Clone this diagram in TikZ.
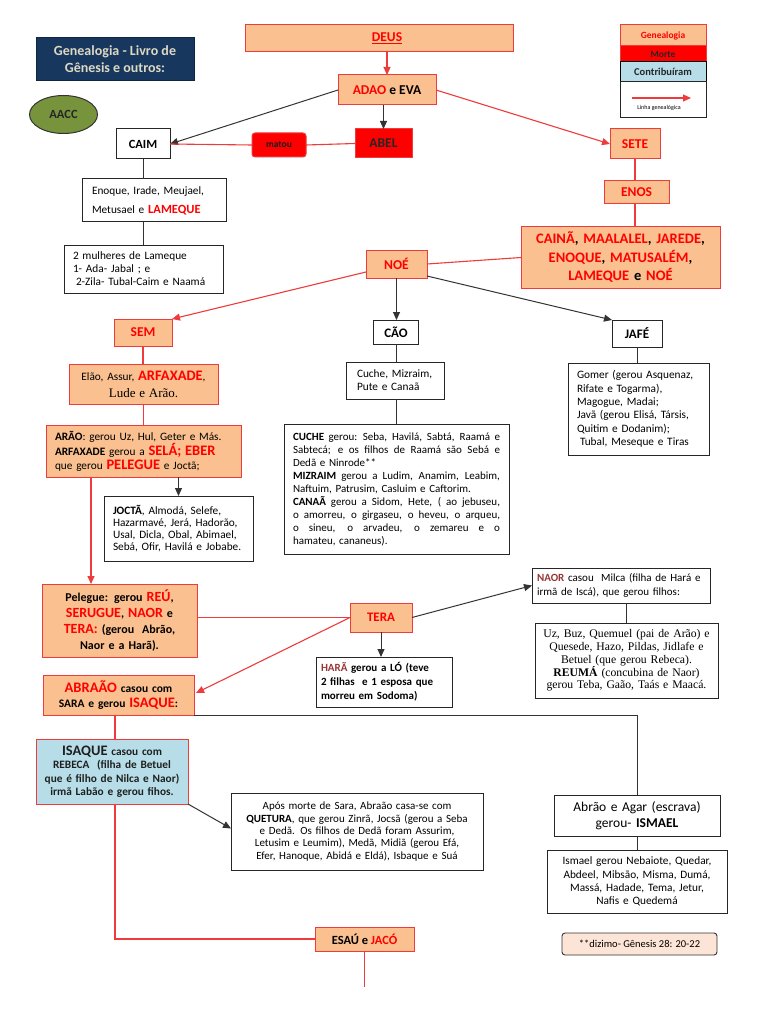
\documentclass[tikz,border=0pt]{standalone}
\usepackage{fontspec}
\setmainfont{Carlito}
\newfontfamily\tms{Liberation Serif}
\usetikzlibrary{arrows.meta,shapes.geometric,calc}
\definecolor{peach}{HTML}{FAC090}
\definecolor{rtxt}{HTML}{FF0000}
\definecolor{rbord}{HTML}{EE3B3B}
\definecolor{lblue}{HTML}{B7DEE8}
\definecolor{navy}{HTML}{17375E}
\definecolor{olive}{HTML}{77933C}
\definecolor{dred}{HTML}{953735}
\definecolor{lpeach}{HTML}{FCE4D6}
\definecolor{ttl}{HTML}{DDD9C3}
\newcommand{\fsz}[2]{\fontsize{#1}{#2}\selectfont}
\newcommand{\rbf}[1]{\textcolor{rtxt}{\textbf{#1}}}
\newcommand{\rcol}[1]{\textcolor{rtxt}{#1}}
\newcommand{\jline}[1]{\leavevmode\hbox to 207pt{\spaceskip=0.22em plus 1fil\relax #1}}
\begin{document}
\begin{tikzpicture}[x=1pt,y=-1pt,
 every node/.style={inner sep=0pt, outer sep=0pt},
 sz/.style 2 args={minimum width=#1pt, minimum height=#2pt},
 pbox/.style={draw=rbord, fill=peach, line width=1pt, rectangle},
 wbox/.style={draw=black!85, fill=white, line width=1pt, rectangle},
 bbox/.style={draw=rbord, fill=lblue, line width=1pt, rectangle},
 rline/.style={draw=rbord, line width=1.1pt},
 kline/.style={draw=black!80, line width=1pt},
 rarr/.style={rline, -{Triangle[length=8pt,width=7pt]}},
 karr/.style={kline, -{Triangle[length=8pt,width=7pt]}},
]
\fill[white] (0,0) rectangle (768,1024);
\useasboundingbox (0,0) rectangle (768,1024);

% title and logo
\node[fill=navy, draw=navy!70!black, line width=1pt, sz={158}{43}, text=ttl, font=\fsz{14}{17}\bfseries, align=center] (title) at (115,59.5) {Genealogia - Livro de\\Gênesis e outros:};
\node[ellipse, draw=black!80, fill=olive, line width=1pt, minimum width=68pt, minimum height=38pt, font=\fsz{12.5}{15}\bfseries, text=black!85] (aacc) at (63.5,114.5) {AACC};

% legend
\node[pbox, sz={86}{21}, font=\fsz{9.5}{11}\bfseries, text=rtxt] (lg1) at (663,35.5) {Genealogia};
\node[draw=rbord, fill=red, line width=1pt, sz={86}{16}, font=\fsz{9.5}{11}\bfseries, text=black!85] (lg2) at (663,54) {Morte};
\node[draw=black, fill=lblue, line width=1pt, sz={86}{20}, font=\fsz{10.5}{12}\bfseries, text=black!85] (lg3) at (663,72) {Contribuíram};
\node[wbox, sz={86}{36}] (lg4) at (663,100) {};
\coordinate (la1) at (632,98);
\coordinate (la2) at (691,98);
\draw[rarr] (la1) -- (la2);
\node[font=\fsz{6}{7}] (lgt) at (659,108) {Linha genealógica};

% top
\node[pbox, sz={268}{27}] (deus) at (379,38.5) {};
\node[font=\fsz{13.5}{16}\bfseries, text=rtxt] (deust) at (387,38.5) {\underline{DEUS}};
\node[pbox, sz={98}{30}, font=\fsz{13.5}{16}\bfseries] (adao) at (387,90) {\rcol{ADAO} e EVA};
\node[draw=rbord, fill=red, line width=1pt, sz={57}{29}, font=\fsz{13.5}{16}\bfseries, text=black!85] (abel) at (383.5,143.5) {ABEL};
\node[wbox, sz={54}{30}, font=\fsz{12.5}{15}\bfseries] (caim) at (143,144) {CAIM};
\node[draw=rbord, fill=red, rounded corners=3pt, line width=1pt, sz={54}{24}, font=\fsz{9.5}{11}\bfseries, text=black!90] (matou) at (279,145) {matou};
\node[pbox, sz={50}{30}, font=\fsz{13.5}{16}\bfseries, text=rtxt] (sete) at (635,144) {SETE};

\draw[rarr] (deus.south -| adao.north) -- (adao.north);
\draw[karr] (abel.north |- adao.south) -- (abel.north);
\draw[karr] (adao.west) -- (caim.east);
\draw[rarr] (adao.east) -- (sete.west);
\draw[rline] (caim.east) -- (matou.west);
\draw[rline] (matou.east) -- (abel.west);

% Caim line
\node[wbox, sz={144}{43}, font=\fsz{11.3}{19}, align=left, text width=124pt] (enoque) at (154,200.5) {Enoque, Irade, Meujael,\\ Metusael e {\fsz{12.5}{19}\rbf{LAMEQUE}}};
\node[wbox, sz={159}{48}, font=\fsz{11.3}{13}, align=left, text width=141pt] (mulh) at (143.5,269) {2 mulheres de Lameque\\ 1- Ada- Jabal ; e\\ \hspace*{3pt}2-Zila- Tubal-Caim e Naamá};
\draw[kline] (caim.south) -- (caim.south |- enoque.north);
\draw[kline] (caim.south |- enoque.south) -- (caim.south |- mulh.north);

% Sete line
\node[pbox, sz={65}{23}, font=\fsz{13.5}{16}\bfseries, text=rtxt] (enos) at (636.5,192.5) {ENOS};
\node[pbox, sz={199}{61}, font=\fsz{14.5}{18.5}\bfseries, align=center, text width=195pt] (big) at (620.5,257.5) {\rcol{CAINÃ}, \rcol{MAALALEL}, \rcol{JAREDE},\\ \rcol{ENOQUE}, \rcol{MATUSALÉM},\\ \rcol{LAMEQUE} e \rcol{NOÉ}};
\draw[rline] (sete.south) -- (sete.south |- enos.north);
\draw[rline] (sete.south |- enos.south) -- (sete.south |- big.north);

% Noe
\node[pbox, sz={61}{28}, font=\fsz{13.5}{16}\bfseries, text=rtxt] (noe) at (396.5,264) {NOÉ};
\draw[rline] (big.west) -- (noe.east);
\node[pbox, sz={58}{27}, font=\fsz{13.5}{16}\bfseries, text=rtxt] (sem) at (143,332.5) {SEM};
\node[wbox, sz={45}{24}, font=\fsz{13}{16}\bfseries] (cao) at (396,332) {CÃO};
\node[wbox, sz={50}{27}, font=\fsz{13}{16}\bfseries] (jafe) at (637,333.5) {JAFÉ};
\draw[rarr] ($(noe.south west)+(0,-6)$) -- (sem.north east);
\draw[karr] (noe.south) -- (noe.south |- cao.north);
\draw[karr] ($(noe.south east)+(0,-2)$) -- (jafe.north west);

% Sem line
\node[pbox, sz={149}{40}, font=\fsz{11.3}{17}, align=center, text width=145pt] (elao) at (143.5,384) {Elão, Assur, {\fsz{14.5}{17}\rbf{ARFAXADE}},\\ {\tms\fsz{13}{17}Lude e Arão.}};
\node[pbox, sz={195}{52}, font=\fsz{11.3}{14}, align=left, text width=177pt] (arao) at (143.5,451) {\textbf{ARÃO}: gerou Uz, Hul, Geter e Más.\\ \textbf{ARFAXADE} gerou a {\fsz{14.5}{14}\rbf{SELÁ; EBER}}\\ que gerou {\fsz{14.5}{14}\rbf{PELEGUE}} e Joctã;};
\node[wbox, sz={149}{65}, font=\fsz{11.3}{12.2}, align=left, text width=131pt] (joctan) at (178.5,528.5) {\textbf{JOCTÃ}, Almodá, Selefe,\\ Hazarmavé, Jerá, Hadorão,\\ Usal, Dicla, Obal, Abimael,\\ Sebá, Ofir, Havilá e Jobabe.};
\node[pbox, sz={155}{73}, font=\fsz{12}{16}\bfseries, align=center, text width=151pt] (pelegue) at (119.5,620.5) {Pelegue: gerou {\fsz{14}{16}\rcol{REÚ}},\\ {\fsz{14}{16}\rcol{SERUGUE}}, {\fsz{14}{16}\rcol{NAOR}} e\\ {\fsz{14}{16}\rcol{TERA:}} (gerou~ Abrão,\\ Naor e a Harã).};
\draw[rline] (sem.south) -- (sem.south |- elao.north);
\draw[rline] (elao.south) -- (elao.south |- arao.north);
\draw[karr] (arao.south -| joctan.north) -- (joctan.north);
\draw[rarr] ($(arao.south west)+(45,0)$) -- ($(pelegue.north west)+(49,0)$);

% Cao line
\node[wbox, sz={98}{37}, font=\fsz{11.3}{13}, align=left, text width=76pt] (cuche1) at (395,380.5) {Cuche, Mizraim,\\ Pute e Canaã};
\node[wbox, sz={225}{130}, font=\fsz{11}{13}, align=left, text width=207pt] (cuche2) at (396.5,489) {%
\jline{\textbf{CUCHE} gerou: Seba, Havilá, Sabtá, Raamá e}\\
\jline{Sabtecá; e os filhos de Raamá são Sebá e}\\
Dedã e Ninrode**\\
\jline{\textbf{MIZRAIM} gerou a Ludim, Anamim, Leabim,}\\
Naftuim, Patrusim, Casluim e Caftorim.\\
\jline{\textbf{CANAÃ} gerou a Sidom, Hete, ( ao jebuseu,}\\
\jline{o amorreu, o girgaseu, o heveu, o arqueu,}\\
\jline{o sineu, o arvadeu, o zemareu e o}\\
hamateu, cananeus).};
\draw[kline] (cao.south) -- (cao.south |- cuche1.north);
\draw[kline] (cao.south |- cuche1.south) -- (cao.south |- cuche2.north);

% Jafe line
\node[wbox, sz={141}{92}, font=\fsz{11.3}{13.3}, align=left, text width=123pt] (gomer) at (638.5,409) {Gomer (gerou Asquenaz,\\ Rifate e Togarma),\\ Magogue, Madai;\\ Javã (gerou Elisá, Társis,\\ Quitim e Dodanim);\\ \hspace*{3pt}Tubal, Meseque e Tiras};
\draw[kline] (jafe.south) -- (jafe.south |- gomer.north);

% Tera
\node[pbox, sz={62}{29}, font=\fsz{13}{16}\bfseries, text=rtxt] (tera) at (381,617.5) {TERA};
\node[pbox, sz={151}{40}, font=\fsz{11.5}{15}\bfseries, align=center, text width=147pt] (abraao) at (118.5,695) {{\fsz{14.5}{15}\rcol{ABRAÃO}} casou com\\ SARA e gerou {\fsz{14.5}{15}\rcol{ISAQUE}}:};
\node[wbox, sz={136}{50}, font=\fsz{11}{14}\bfseries, align=left, text width=126pt] (hara) at (384,682) {\textcolor{dred}{HARÃ} gerou a LÓ (teve\\ 2 filhas~ e 1 esposa que\\ morreu em Sodoma)};
\node[wbox, sz={178}{35}, font=\fsz{11}{14}, align=left, text width=168pt] (naor) at (621,585.5) {\textcolor{dred}{\textbf{NAOR}} casou~ Milca (filha de Hará e\\ irmã de Iscá), que gerou filhos:};
\node[wbox, sz={183}{75}, font=\tms\fsz{11.7}{12.8}, align=center, text width=179pt] (uz) at (626.5,660.5) {Uz, Buz, Quemuel (pai de Arão) e\\ Quesede, Hazo, Pildas, Jidlafe e\\ Betuel (que gerou Rebeca).\\ \textbf{REUMÁ} (concubina de Naor)\\ gerou Teba, Gaão, Taás e Maacá.};
\draw[rline] (pelegue.east |- tera.west) -- (tera.west);
\draw[rarr] (tera.west) -- ($(abraao.east)+(2,-2)$);
\draw[karr] (tera.south) -- (tera.south |- hara.north);
\draw[karr] (tera.east) -- (naor.west);
\draw[kline] (uz.north |- naor.south) -- (uz.north);

% Abraao descendants
\node[bbox, sz={152}{65}, font=\fsz{11.3}{13.5}\bfseries, align=center, text width=148pt, text=black!88] (isaque) at (112,771.5) {{\fsz{14.5}{13.5}ISAQUE} casou com\\ REBECA~ (filha de Betuel\\ que é filho de Nilca e Naor)\\ irmã Labão e gerou fihos.};
\node[wbox, sz={252}{77}, font=\fsz{11}{12.3}, align=center, text width=248pt] (quet) at (357,831.5) {Após morte de Sara, Abraão casa-se com\\ \textbf{QUETURA}, que gerou Zinrã, Jocsã (gerou a Seba\\ e Dedã. Os filhos de Dedã foram Assurim,\\ Letusim e Leumim), Medã, Midiã (gerou Efá,\\ Efer, Hanoque, Abidá e Eldá), Isbaque e Suá};
\node[wbox, sz={166}{41}, font=\fsz{13.5}{16}, align=center, text width=162pt] (agar) at (637,815.5) {Abrão e Agar (escrava)\\ gerou- \textbf{ISMAEL}};
\node[wbox, sz={180}{63}, font=\fsz{11.3}{13.3}, align=center, text width=176pt] (ismael) at (637,881.5) {Ismael gerou Nebaiote, Quedar,\\ Abdeel, Mibsão, Misma, Dumá,\\ Massá, Hadade, Tema, Jetur,\\ Nafis e Quedemá};
\node[pbox, sz={99}{24}, font=\fsz{12.5}{15}\bfseries] (esau) at (364.5,939) {ESAÚ e \rcol{JACÓ}};
\node[draw=black!80, fill=lpeach, rounded corners=3pt, line width=0.9pt, sz={155}{22}, font=\fsz{10.5}{12}] (diz) at (639.5,944) {**dizimo- Gênesis 28: 20-22};
\coordinate (jend) at (364.5,987);

\draw[rline] ($(abraao.south)+(-3.5,0)$) -- ($(isaque.north)+(3,0)$);
\draw[kline] (abraao.south east) -| (agar.north);
\draw[karr] (isaque.south east) -- ($(quet.west)+(0,-3)$);
\draw[rline] ($(isaque.south)+(3,0)$) |- (esau.west);
\draw[rline] (esau.south) -- (jend);
\draw[kline] (agar.south) -- (ismael.north);
\end{tikzpicture}
\end{document}
